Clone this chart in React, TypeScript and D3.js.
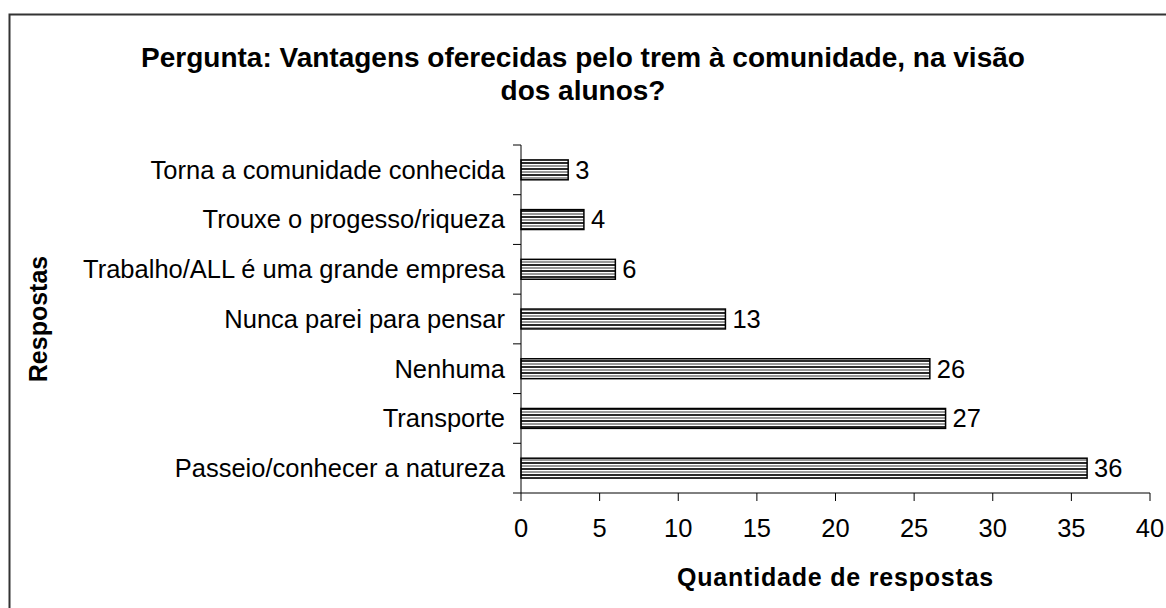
import React from "react";
import * as d3 from "d3";

const categories = [
  "Torna a comunidade conhecida",
  "Trouxe o progesso/riqueza",
  "Trabalho/ALL é uma grande empresa",
  "Nunca parei para pensar",
  "Nenhuma",
  "Transporte",
  "Passeio/conhecer a natureza",
];
const values = [3, 4, 6, 13, 26, 27, 36];
const xTicks = [0, 5, 10, 15, 20, 25, 30, 35, 40];

const titleLines = [
  "Pergunta: Vantagens oferecidas pelo trem à comunidade, na visão",
  "dos alunos?",
];

const App = () => {
  const width = 1166,
    height = 608;
  const left = 521,
    right = 1150,
    top = 145,
    bottom = 493;

  const x = d3.scaleLinear().domain([0, 40]).range([left, right]);
  const y = d3
    .scaleBand()
    .domain(categories)
    .range([top, bottom])
    .paddingInner(0.6)
    .paddingOuter(0.3);
  const step = y.step();
  const font = "'Liberation Sans', Arial, sans-serif";

  return (
    <svg
      width={width}
      height={height}
      style={{ position: "fixed", left: 0, top: 0, background: "#fff" }}
      fontFamily={font}
    >
      <defs>
        <pattern id="stripes" patternUnits="userSpaceOnUse" width="10" height="6" y="0">
          <rect width="10" height="6" fill="#fff" />
          <rect y="0" width="10" height="2" fill="#2a2a2a" />
          <rect y="3" width="10" height="2" fill="#999" />
        </pattern>
      </defs>
      <rect x={9.5} y={14.5} width={1200} height={700} fill="#fff" stroke="#333" strokeWidth={2} />

      {titleLines.map((t, i) => (
        <text
          key={i}
          x={583}
          y={67 + i * 33}
          textAnchor="middle"
          fontWeight="bold"
          fontSize={28}
          fill="#000"
        >
          {t}
        </text>
      ))}

      {/* bars */}
      {categories.map((c, i) => {
        const by = y(c) as number;
        return (
          <g key={c}>
            <rect
              x={x(0)}
              y={by}
              width={x(values[i]) - x(0)}
              height={y.bandwidth()}
              fill="url(#stripes)"
              stroke="#000"
              strokeWidth={1.5}
            />
            <text
              x={x(values[i]) + 7}
              y={by + y.bandwidth() / 2}
              dy="0.35em"
              fontSize={25.5}
            >
              {values[i]}
            </text>
            <text
              x={left - 16}
              y={by + y.bandwidth() / 2}
              dy="0.35em"
              textAnchor="end"
              fontSize={25.5}
            >
              {c}
            </text>
          </g>
        );
      })}

      {/* y axis */}
      <line x1={left} x2={left} y1={top} y2={bottom} stroke="#000" />
      {d3.range(categories.length + 1).map((i) => (
        <line
          key={i}
          x1={left - 8}
          x2={left}
          y1={top + i * step}
          y2={top + i * step}
          stroke="#000"
        />
      ))}

      {/* x axis */}
      <line x1={left} x2={right} y1={bottom} y2={bottom} stroke="#000" />
      {xTicks.map((t) => (
        <g key={t}>
          <line x1={x(t)} x2={x(t)} y1={bottom} y2={bottom + 8} stroke="#000" />
          <text x={x(t)} y={537} textAnchor="middle" fontSize={25.5}>
            {t}
          </text>
        </g>
      ))}

      <text
        x={(left + right) / 2}
        y={586}
        textAnchor="middle"
        fontWeight="bold"
        fontSize={25}
        letterSpacing="0.8"
      >
        Quantidade de respostas
      </text>
      <text
        transform={`translate(47,${(top + bottom) / 2}) rotate(-90)`}
        textAnchor="middle"
        fontWeight="bold"
        fontSize={25}
      >
        Respostas
      </text>
    </svg>
  );
};

export default App;
